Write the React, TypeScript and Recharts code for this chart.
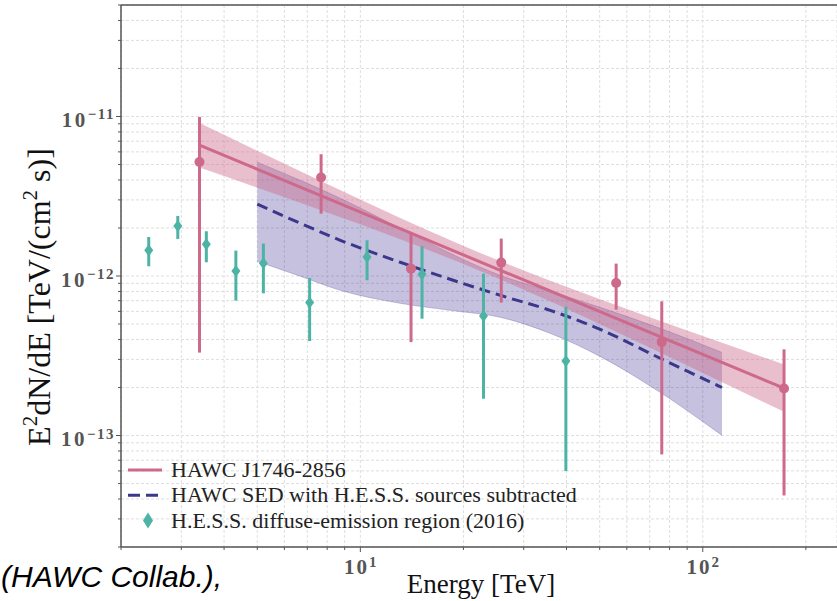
import React from 'react';
import {
  ComposedChart,
  XAxis,
  YAxis,
  CartesianGrid,
  Scatter,
  Line,
  Area,
  ErrorBar,
  ReferenceLine,
  Legend,
  Label,
} from 'recharts';

// ---------- data ----------
// HAWC J1746-2856 flux points (E in TeV, E^2 dN/dE in TeV cm^-2 s^-1)
const hawcE = [3.39, 7.68, 14.06, 25.79, 55.85, 75.9, 172.7];
const hawcFlux = [5.19e-12, 4.14e-12, 1.112e-12, 1.213e-12, 9.04e-13, 3.85e-13, 1.97e-13];
const hawcLo = [3.31e-13, 2.46e-12, 3.85e-13, 6.81e-13, 6.15e-13, 7.61e-14, 4.21e-14];
const hawcHi = [9.94e-12, 5.8e-12, 1.845e-12, 1.716e-12, 1.196e-12, 6.94e-13, 3.47e-13];

// H.E.S.S. diffuse-emission region (2016)
const hessE = [2.41, 2.93, 3.55, 4.33, 5.21, 7.11, 10.46, 15.14, 22.89, 39.83];
const hessFlux = [1.449e-12, 2.06e-12, 1.581e-12, 1.075e-12, 1.201e-12, 6.81e-13, 1.316e-12, 1.025e-12, 5.61e-13, 2.93e-13];
const hessLo = [1.151e-12, 1.707e-12, 1.219e-12, 7.01e-13, 7.79e-13, 3.91e-13, 9.4e-13, 5.4e-13, 1.7e-13, 5.98e-14];
const hessHi = [1.756e-12, 2.38e-12, 1.908e-12, 1.443e-12, 1.597e-12, 9.72e-13, 1.675e-12, 1.536e-12, 1.035e-12, 6.39e-13];

// HAWC best-fit power law and its band
const fitE = [3.39, 172.7];
const fitFlux = [6.61e-12, 1.98e-13];
const bandE = [3.39, 5.11, 7.64, 13.08, 22.39, 38.33, 65.6, 112.3, 172.7];
const bandLo = [4.79e-12, 3.52e-12, 2.59e-12, 1.7e-12, 1.076e-12, 6.5e-13, 3.8e-13, 2.19e-13, 1.41e-13];
const bandHi = [9.1e-12, 5.96e-12, 3.95e-12, 2.31e-12, 1.396e-12, 8.86e-13, 5.8e-13, 3.85e-13, 2.79e-13];

// HAWC SED with H.E.S.S. sources subtracted
const subE = [5.0, 6.68, 8.74, 13.08, 18.3, 25.62, 35.85, 50.15, 75.07, 113.8];
const subFlux = [2.82e-12, 2.14e-12, 1.675e-12, 1.219e-12, 9.54e-13, 7.57e-13, 6.09e-13, 4.63e-13, 3.05e-13, 2.0e-13];
const subLo = [1.237e-12, 9.96e-13, 8.13e-13, 6.74e-13, 6.09e-13, 5.51e-13, 4.37e-13, 3.13e-13, 1.864e-13, 1.001e-13];
const subHi = [5.17e-12, 3.98e-12, 3.07e-12, 1.99e-12, 1.388e-12, 1.01e-12, 8.02e-13, 6.36e-13, 4.7e-13, 3.32e-13];

// ticks
const xTicks = [2, 3, 4, 5, 6, 7, 8, 9, 10, 20, 30, 40, 50, 60, 70, 80, 90, 100, 200];
const yTicks = [
  2e-14, 3e-14, 4e-14, 5e-14, 6e-14, 7e-14, 8e-14, 9e-14,
  1e-13, 2e-13, 3e-13, 4e-13, 5e-13, 6e-13, 7e-13, 8e-13, 9e-13,
  1e-12, 2e-12, 3e-12, 4e-12, 5e-12, 6e-12, 7e-12, 8e-12, 9e-12,
  1e-11, 2e-11, 3e-11, 4e-11, 5e-11,
];
const xDomain = [2, 246.6];
const yDomain = [2e-14, 5e-11];

const legendItems = [
  { label: 'HAWC J1746-2856', kind: 'line' },
  { label: 'HAWC SED with H.E.S.S. sources subtracted', kind: 'dash' },
  { label: 'H.E.S.S. diffuse-emission region (2016)', kind: 'diamond' },
];

// ---------- styling ----------
const PINK = '#CD6A8B';
const TEAL = '#4DB3A5';
const INDIGO = '#3D378C';
const AXIS = '#555555';
const SERIF = '"Liberation Serif", "Times New Roman", serif';

const hawcData = hawcE.map((x, i) => ({ x, y: hawcFlux[i], err: [hawcFlux[i] - hawcLo[i], hawcHi[i] - hawcFlux[i]] }));
const hessData = hessE.map((x, i) => ({ x, y: hessFlux[i], err: [hessFlux[i] - hessLo[i], hessHi[i] - hessFlux[i]] }));
const fitData = fitE.map((x, i) => ({ x, y: fitFlux[i] }));
const bandData = bandE.map((x, i) => ({ x, lo: bandLo[i], hi: bandHi[i] }));
const subLine = subE.map((x, i) => ({ x, y: subFlux[i] }));
const subBand = subE.map((x, i) => ({ x, lo: subLo[i], hi: subHi[i] }));

const isMajor = (v: number) => Math.abs(Math.log10(v) - Math.round(Math.log10(v))) < 1e-6;
const expText = (e: number) => (e < 0 ? `\u2212${-e}` : `${e}`);

const XTick = (props: any) => {
  const { x, y, payload } = props;
  const v = payload.value;
  const major = isMajor(v);
  const exp = Math.round(Math.log10(v));
  return (
    <g>
      <line x1={x} y1={y} x2={x} y2={y + (major ? 5 : 3)} stroke={AXIS} strokeWidth={1} />
      {major && (
        <text x={x} y={y + 27} textAnchor="middle" fill={AXIS} fontFamily={SERIF} fontWeight="bold">
          <tspan fontSize={21} letterSpacing={2}>10</tspan>
          <tspan fontSize={15} dy={-7}>{expText(exp)}</tspan>
        </text>
      )}
    </g>
  );
};

const YTick = (props: any) => {
  const { x, y, payload } = props;
  const v = payload.value;
  const major = isMajor(v);
  const exp = Math.round(Math.log10(v));
  return (
    <g>
      <line x1={x} y1={y} x2={x - (major ? 5 : 3)} y2={y} stroke={AXIS} strokeWidth={1} />
      {major && (
        <text x={x - 6} y={y + 10.5} textAnchor="end" fill={AXIS} fontFamily={SERIF} fontWeight="bold">
          <tspan fontSize={21} letterSpacing={2.5}>10</tspan>
          <tspan fontSize={15} dy={-7.5} letterSpacing={1.5}>{expText(exp)}</tspan>
        </text>
      )}
    </g>
  );
};

const Diamond = (props: any) => {
  const { cx, cy } = props;
  if (cx == null || cy == null) return null;
  return <path d={`M${cx},${cy - 6} L${cx + 4.5},${cy} L${cx},${cy + 6} L${cx - 4.5},${cy} Z`} fill={TEAL} />;
};

const Dot = (props: any) => {
  const { cx, cy } = props;
  if (cx == null || cy == null) return null;
  return <circle cx={cx} cy={cy} r={5} fill={PINK} />;
};

const renderLegend = () => (
  <svg width={560} height={90} style={{ display: 'block', overflow: 'visible' }}>
    {legendItems.map((it, i) => {
      const cy = 16 + i * 25.3;
      return (
        <g key={it.label}>
          {it.kind === 'line' && <line x1={7} y1={cy} x2={41} y2={cy} stroke={PINK} strokeWidth={3} />}
          {it.kind === 'dash' && (
            <line x1={7} y1={cy} x2={41} y2={cy} stroke={INDIGO} strokeWidth={3} strokeDasharray="12 6" />
          )}
          {it.kind === 'diamond' && (
            <path d={`M27,${cy - 8} L32,${cy} L27,${cy + 8} L22,${cy} Z`} fill={TEAL} />
          )}
          <text x={50} y={cy + 7} fontFamily={SERIF} fontSize={22} fill="#222">
            {it.label}
          </text>
        </g>
      );
    })}
  </svg>
);

export default function App() {
  return (
    <div style={{ position: 'absolute', left: 0, top: 0, width: 837, height: 601, background: '#fff', overflow: 'hidden' }}>
      <ComposedChart width={837} height={601} margin={{ top: 5, right: 0, bottom: 0, left: 0 }}>
        <CartesianGrid stroke="#dedede" strokeDasharray="3 2" strokeWidth={1} />
        <XAxis
          type="number"
          dataKey="x"
          scale="log"
          domain={xDomain}
          allowDataOverflow
          ticks={xTicks}
          interval={0}
          height={54}
          tickSize={0}
          tickMargin={0}
          tick={<XTick />}
          axisLine={{ stroke: AXIS, strokeWidth: 1.5 }}
          tickLine={false}
        >
          <Label
            content={() => (
              <text x={481} y={593} textAnchor="middle" fontFamily={SERIF} fontSize={27} fill="#111">
                Energy [TeV]
              </text>
            )}
          />
        </XAxis>
        <YAxis
          type="number"
          scale="log"
          domain={yDomain}
          allowDataOverflow
          ticks={yTicks}
          interval={0}
          width={121}
          tickSize={0}
          tickMargin={0}
          tick={<YTick />}
          axisLine={{ stroke: AXIS, strokeWidth: 1.5 }}
          tickLine={false}
        >
          <Label
            content={() => (
              <text transform="rotate(-90)" x={-297} y={50} textAnchor="middle" fontFamily={SERIF} fontSize={32} fill="#111">
                E<tspan fontSize={21} dy={-13}>2</tspan>
                <tspan dy={13}>dN/dE [TeV/(cm</tspan>
                <tspan fontSize={21} dy={-13}>2</tspan>
                <tspan dy={13}> s)]</tspan>
              </text>
            )}
          />
        </YAxis>
        <ReferenceLine y={5e-11} stroke={AXIS} strokeWidth={1.5} />

        <Area
          data={subBand}
          dataKey={(d: any) => [d.lo, d.hi]}
          type="monotone"
          fill="#332288"
          fillOpacity={0.28}
          stroke="#332288"
          strokeOpacity={0.25}
          strokeWidth={1}
          isAnimationActive={false}
        />
        <Area
          data={bandData}
          dataKey={(d: any) => [d.lo, d.hi]}
          type="monotone"
          fill="#CC6688"
          fillOpacity={0.42}
          stroke="none"
          isAnimationActive={false}
        />
        <Line
          data={subLine}
          dataKey="y"
          type="monotone"
          stroke={INDIGO}
          strokeWidth={3}
          strokeDasharray="11 6"
          dot={false}
          isAnimationActive={false}
        />
        <Line data={fitData} dataKey="y" type="linear" stroke={PINK} strokeWidth={3} dot={false} isAnimationActive={false} />
        <Scatter data={hessData} dataKey="y" shape={<Diamond />} isAnimationActive={false}>
          <ErrorBar dataKey="err" direction="y" width={0} stroke={TEAL} strokeWidth={3} />
        </Scatter>
        <Scatter data={hawcData} dataKey="y" shape={<Dot />} isAnimationActive={false}>
          <ErrorBar dataKey="err" direction="y" width={0} stroke={PINK} strokeWidth={3} />
        </Scatter>
        <Legend
          layout="vertical"
          align="center"
          verticalAlign="middle"
          content={renderLegend}
          wrapperStyle={{ left: 121, top: 454, width: 560, height: 90 }}
        />
      </ComposedChart>
      <svg width={837} height={601} style={{ position: 'absolute', left: 0, top: 0, pointerEvents: 'none' }}>
        <text x={1} y={587} fontFamily='"Liberation Sans", Arial, sans-serif' fontStyle="italic" fontSize={30} fill="#000">
          (HAWC Collab.),
        </text>
      </svg>
    </div>
  );
}
